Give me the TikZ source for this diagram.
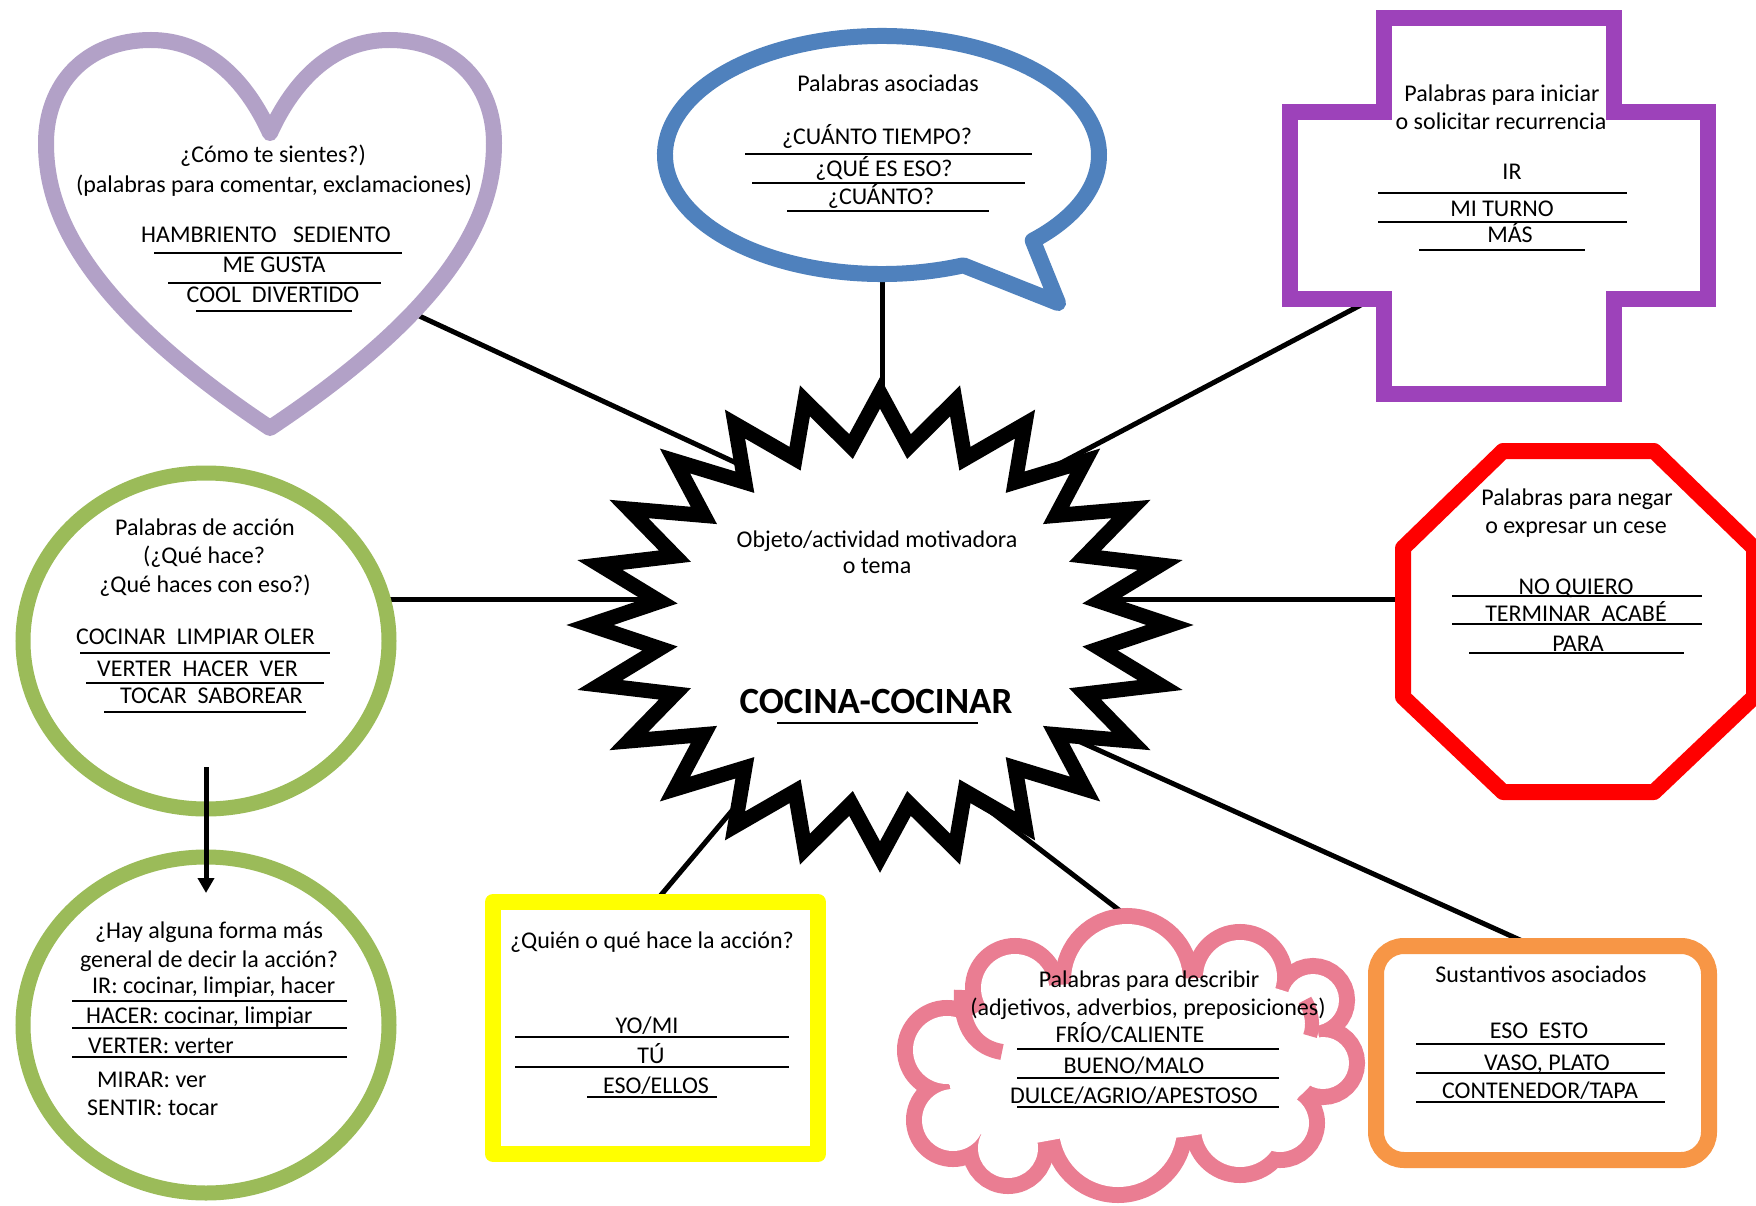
\documentclass[tikz,border=0pt]{standalone}
\usepackage{fontspec}
\setmainfont{Carlito}
\usetikzlibrary{arrows.meta}
\definecolor{heartc}{RGB}{178,161,199}
\definecolor{bluec}{RGB}{79,129,189}
\definecolor{purplec}{RGB}{157,66,186}
\definecolor{redc}{RGB}{255,0,0}
\definecolor{greenc}{RGB}{155,187,89}
\definecolor{yellowc}{RGB}{255,255,0}
\definecolor{pinkc}{RGB}{234,125,146}
\definecolor{orangec}{RGB}{247,150,70}
\begin{document}
\begin{tikzpicture}[x=1pt,y=-1pt,
  txt/.style={anchor=base, inner sep=0pt, font=\fontsize{24}{29}\selectfont},
  txtl/.style={txt, anchor=base west},
  uline/.style={line width=1.3pt, black},
  conn/.style={line width=5pt, black},
  shadowed/.style={preaction={draw=black, draw opacity=0.18, transform canvas={shift={(3pt,-4pt)}}}},
  shp/.style={line width=16pt, fill=white, shadowed}]
\useasboundingbox (0,0) rectangle (1756,1206);
\fill[white] (0,0) rectangle (1756,1206);

% connector end points
\coordinate (heartA) at (387,301);  \coordinate (starH) at (786,486);
\coordinate (bubA) at (882,250);    \coordinate (starB) at (882,500);
\coordinate (crossA) at (1395,287); \coordinate (starC) at (949,522);
\coordinate (grA) at (350,599);     \coordinate (starG) at (760,599);
\coordinate (octA) at (1430,599);   \coordinate (starO) at (1000,599);
\coordinate (yelA) at (645,914);    \coordinate (starY) at (821,705);
\coordinate (cloudA) at (1145,930); \coordinate (starD) at (930,765);
\coordinate (orA) at (1560,958);    \coordinate (starR) at (994,703);
\coordinate (arrA) at (206,767);    \coordinate (arrB) at (206,893);

\draw[conn] (heartA) -- (starH);
\draw[conn] (bubA) -- (starB);
\draw[conn] (crossA) -- (starC);
\draw[conn] (grA) -- (starG);
\draw[conn] (octA) -- (starO);
\draw[conn] (yelA) -- (starY);
\draw[conn] (cloudA) -- (starD);
\draw[conn] (orA) -- (starR);

% heart
\draw[shp, draw=heartc, line join=round]
  (270,133) .. controls (295,78) and (335,40) .. (389,40)
  .. controls (455,40) and (494,85) .. (494,143)
  .. controls (494,202) and (470,295) .. (270,428)
  .. controls (70,295) and (46,202) .. (46,143)
  .. controls (46,85) and (85,40) .. (151,40)
  .. controls (205,40) and (245,78) .. cycle;

% speech bubble
\draw[shp, draw=bluec, line join=round]
  ([shift={(68:217 and 119)}]882,155)
  arc[start angle=68, end angle=406, x radius=217, y radius=119]
  -- (1058,303) -- cycle;

% cross
\draw[shp, draw=purplec, line join=miter]
  (1384,18) -- (1614,18) -- (1614,112) -- (1708,112) -- (1708,299)
  -- (1614,299) -- (1614,394) -- (1384,394) -- (1384,299) -- (1290,299)
  -- (1290,112) -- (1384,112) -- cycle;

% octagon
\draw[shp, draw=redc, line join=round]
  (1503,451) -- (1654,451) -- (1754,548) -- (1754,697) -- (1654,792)
  -- (1503,792) -- (1403,697) -- (1403,548) -- cycle;

% green circles
\draw[shp, line width=15pt, draw=greenc] (206,641) ellipse[x radius=183, y radius=168];
\draw[shp, line width=15pt, draw=greenc] (206,1025) ellipse[x radius=183, y radius=168];

% yellow box
\draw[shp, draw=yellowc, line join=round] (493,902) rectangle (818,1154);

% orange box
\draw[shp, draw=orangec, rounded corners=28pt] (1376,946) rectangle (1709,1160);

% cloud
\foreach \cx/\cy/\r in {947/1050/50, 1015/988/50, 1127/980/72, 1240/977/53,
  1313/1000/42, 1323/1063/42, 1280/1123/45, 1240/1128/55, 1118/1128/75,
  1008/1148/46, 953/1120/47}
  \draw[pinkc, line width=32pt] (\cx,\cy) circle[radius=\r-16];
\foreach \cx/\cy/\r in {947/1050/50, 1015/988/50, 1127/980/72, 1240/977/53,
  1313/1000/42, 1323/1063/42, 1280/1123/45, 1240/1128/55, 1118/1128/75,
  1008/1148/46, 953/1120/47}
  \fill[white] (\cx,\cy) circle[radius=\r-16];
\fill[white] (947,1050) -- (1015,988) -- (1127,980) -- (1240,977) -- (1313,1000)
  -- (1323,1063) -- (1280,1123) -- (1240,1128) -- (1118,1128) -- (1008,1148)
  -- (953,1120) -- cycle;
\fill[white] (1130,1060) ellipse[x radius=190, y radius=80];
\draw[pinkc, line width=16pt] (962,990) .. controls (960,1030) and (978,1048) .. (1002,1052);
\draw[pinkc, line width=14pt] (1305,1000) .. controls (1312,1012) and (1314,1025) .. (1310,1036);

% star
\draw[line width=15pt, fill=white, line join=miter, shadowed]
  (880,393) \foreach \i in {1,...,47} {
    -- ({880+ifthenelse(mod(\i,2)==0,290,222)*sin(\i*7.5)},
        {625-ifthenelse(mod(\i,2)==0,232,180)*cos(\i*7.5)}) } -- cycle;

% arrow between green circles
\draw[line width=5pt, -{Triangle[width=16pt,length=15pt]}] (arrA) -- (arrB);

% heart text
\node[txt] (h1) at (273,163) {¿Cómo te sientes?)};
\node[txt] (h2) at (274,193) {(palabras para comentar, exclamaciones)};
\node[txt] (h3) at (266,243) {HAMBRIENTO\ \ \ SEDIENTO};
\node[txt] (h4) at (274,273) {ME GUSTA};
\node[txt] (h5) at (273,303) {COOL\ \ DIVERTIDO};
\draw[uline] (154,253) -- (402,253);
\draw[uline] (168,283) -- (381,283);
\draw[uline] (196,311) -- (352,311);

% bubble text
\node[txt] (b1) at (888,92) {Palabras asociadas};
\node[txt] (b2) at (877,145) {¿CUÁNTO TIEMPO?};
\node[txt] (b3) at (884,177) {¿QUÉ ES ESO?};
\node[txt] (b4) at (881,205) {¿CUÁNTO?};
\draw[uline] (745,154) -- (1032,154);
\draw[uline] (752,183) -- (1025,183);
\draw[uline] (787,211) -- (989,211);

% cross text
\node[txt] (c1) at (1502,102) {Palabras para iniciar};
\node[txt] (c2) at (1501,130) {o solicitar recurrencia};
\node[txt] (c3) at (1512,180) {IR};
\node[txt] (c4) at (1502,217) {MI TURNO};
\node[txt] (c5) at (1510,243) {MÁS};
\draw[uline] (1378,193) -- (1627,193);
\draw[uline] (1378,222) -- (1627,222);
\draw[uline] (1419,250) -- (1585,250);

% octagon text
\node[txt] (o1) at (1577,505) {Palabras para negar};
\node[txt] (o2) at (1576,533) {o expresar un cese};
\node[txt] (o3) at (1576,594) {NO QUIERO};
\node[txt] (o4) at (1576,621) {TERMINAR\ \ ACABÉ};
\node[txt] (o5) at (1578,651) {PARA};
\draw[uline] (1452,596) -- (1702,596);
\draw[uline] (1452,624) -- (1702,624);
\draw[uline] (1469,653) -- (1684,653);

% green circle 1 text
\node[txt] (g1) at (205,535) {Palabras de acción};
\node[txt] (g2) at (204,563) {(¿Qué hace?};
\node[txt] (g3) at (205,592) {¿Qué haces con eso?)};
\node[txtl] (g4) at (76,644) {COCINAR\ \ LIMPIAR OLER};
\node[txtl] (g5) at (97,676) {VERTER\ \ HACER\ \ VER};
\node[txtl] (g6) at (120,703) {TOCAR\ \ SABOREAR};
\draw[uline] (80,653) -- (330,653);
\draw[uline] (86,683) -- (324,683);
\draw[uline] (104,712) -- (306,712);

% green circle 2 text
\node[txt] (k1) at (209,938) {¿Hay alguna forma más};
\node[txt] (k2) at (209,967) {general de decir la acción?};
\node[txtl] (k3) at (92,993) {IR: cocinar, limpiar, hacer};
\node[txtl] (k4) at (86,1023) {HACER: cocinar, limpiar};
\node[txtl] (k5) at (88,1053) {VERTER: verter};
\node[txtl] (k6) at (97,1087) {MIRAR: ver};
\node[txtl] (k7) at (87,1115) {SENTIR: tocar};
\draw[uline] (72,1001) -- (347,1001);
\draw[uline] (72,1028) -- (347,1028);
\draw[uline] (72,1057) -- (347,1057);

% star text
\node[txt] (s1) at (877,547) {Objeto/actividad motivadora};
\node[txt] (s2) at (877,573) {o tema};
\node[txt, font=\fontsize{37}{44}\selectfont\bfseries] (s3) at (876,713) {COCINA-COCINAR};
\draw[line width=2pt] (777,723) -- (978,723);

% yellow text
\node[txt] (y1) at (652,948) {¿Quién o qué hace la acción?};
\node[txt] (y2) at (647,1033) {YO/MI};
\node[txt] (y3) at (651,1063) {TÚ};
\node[txt] (y4) at (656,1093) {ESO/ELLOS};
\draw[uline] (515,1037) -- (789,1037);
\draw[uline] (515,1067) -- (789,1067);
\draw[uline] (587,1097) -- (717,1097);

% cloud text
\node[txt] (d1) at (1149,987) {Palabras para describir};
\node[txt] (d2) at (1148,1015) {(adjetivos, adverbios, preposiciones)};
\node[txt] (d3) at (1130,1042) {FRÍO/CALIENTE};
\node[txt] (d4) at (1134,1073) {BUENO/MALO};
\node[txt] (d5) at (1134,1103) {DULCE/AGRIO/APESTOSO};
\draw[uline] (1017,1049) -- (1279,1049);
\draw[uline] (1017,1078) -- (1279,1078);
\draw[uline] (1017,1107) -- (1279,1107);

% orange text
\node[txt] (r1) at (1541,982) {Sustantivos asociados};
\node[txt] (r2) at (1539,1038) {ESO\ \ ESTO};
\node[txt] (r3) at (1547,1070) {VASO, PLATO};
\node[txt] (r4) at (1540,1098) {CONTENEDOR/TAPA};
\draw[uline] (1416,1044) -- (1665,1044);
\draw[uline] (1416,1073) -- (1665,1073);
\draw[uline] (1416,1102) -- (1665,1102);
\end{tikzpicture}
\end{document}
